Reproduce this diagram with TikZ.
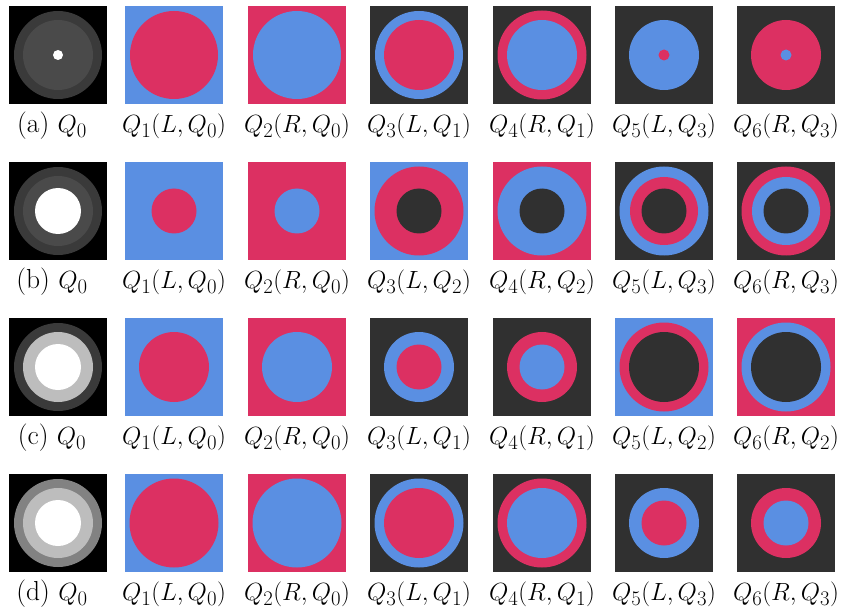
\documentclass[tikz,border=0pt]{standalone}
\usepackage{tikz}
\definecolor{blu}{RGB}{90,143,226}
\definecolor{pnk}{RGB}{220,48,98}
\definecolor{drk}{RGB}{48,48,48}
\definecolor{gA}{RGB}{58,58,58}
\definecolor{gB}{RGB}{74,74,74}
\definecolor{gC}{RGB}{189,189,189}
\definecolor{gD}{RGB}{130,130,130}
\tikzset{
  sq/.style={minimum size=98pt, inner sep=0pt, outer sep=0pt, draw=none},
  lab/.style={font=\fontsize{27.5}{31}\selectfont, inner sep=0pt}
}
\newcommand\panel[5]{%
  \node[sq, fill=#4] (#1) at (#2,#3) {};
  \foreach \r/\c in {#5} {\fill[\c] (#1.center) circle[radius=\r pt];}
}
\begin{document}
\begin{tikzpicture}[x=1pt,y=-1pt]
\useasboundingbox[fill=white] (0,0) rectangle (845,612);
% row a
\panel{a0}{58}{55}{black}{44/gA,35/gB,5/white}
\panel{a1}{174}{55}{blu}{44/pnk}
\panel{a2}{297}{55}{pnk}{44/blu}
\panel{a3}{419}{55}{drk}{44/blu,35/pnk}
\panel{a4}{542}{55}{drk}{44.5/pnk,35/blu}
\panel{a5}{664}{55}{drk}{35/blu,5.5/pnk}
\panel{a6}{786}{55}{drk}{35/pnk,5.5/blu}
\node[lab] (la0) at (52,126) {(a) $Q_0$};
\node[lab] (la1) at (174,126) {$Q_1(L,Q_0)$};
\node[lab] (la2) at (297,126) {$Q_2(R,Q_0)$};
\node[lab] (la3) at (419,126) {$Q_3(L,Q_1)$};
\node[lab] (la4) at (542,126) {$Q_4(R,Q_1)$};
\node[lab] (la5) at (664,126) {$Q_5(L,Q_3)$};
\node[lab] (la6) at (786,126) {$Q_6(R,Q_3)$};
% row b
\panel{b0}{58}{211}{black}{44/gA,35/gB,23/white}
\panel{b1}{174}{211}{blu}{22.5/pnk}
\panel{b2}{297}{211}{pnk}{22.5/blu}
\panel{b3}{419}{211}{blu}{44.5/pnk,22.5/drk}
\panel{b4}{542}{211}{pnk}{44.5/blu,22.5/drk}
\panel{b5}{664}{211}{drk}{44.5/blu,34/pnk,22.5/drk}
\panel{b6}{786}{211}{drk}{44.5/pnk,34/blu,22.5/drk}
\node[lab] (lb0) at (52,282) {(b) $Q_0$};
\node[lab] (lb1) at (174,282) {$Q_1(L,Q_0)$};
\node[lab] (lb2) at (297,282) {$Q_2(R,Q_0)$};
\node[lab] (lb3) at (419,282) {$Q_3(L,Q_2)$};
\node[lab] (lb4) at (542,282) {$Q_4(R,Q_2)$};
\node[lab] (lb5) at (664,282) {$Q_5(L,Q_3)$};
\node[lab] (lb6) at (786,282) {$Q_6(R,Q_3)$};
% row c
\panel{c0}{58}{367}{black}{44/gA,35/gC,23/white}
\panel{c1}{174}{367}{blu}{35/pnk}
\panel{c2}{297}{367}{pnk}{35/blu}
\panel{c3}{419}{367}{drk}{35/blu,22.5/pnk}
\panel{c4}{542}{367}{drk}{35/pnk,22.5/blu}
\panel{c5}{664}{367}{blu}{44.5/pnk,35/drk}
\panel{c6}{786}{367}{pnk}{44.5/blu,35/drk}
\node[lab] (lc0) at (52,438) {(c) $Q_0$};
\node[lab] (lc1) at (174,438) {$Q_1(L,Q_0)$};
\node[lab] (lc2) at (297,438) {$Q_2(R,Q_0)$};
\node[lab] (lc3) at (419,438) {$Q_3(L,Q_1)$};
\node[lab] (lc4) at (542,438) {$Q_4(R,Q_1)$};
\node[lab] (lc5) at (664,438) {$Q_5(L,Q_2)$};
\node[lab] (lc6) at (786,438) {$Q_6(R,Q_2)$};
% row d
\panel{d0}{58}{523}{black}{44/gD,35/gC,23/white}
\panel{d1}{174}{523}{blu}{44.5/pnk}
\panel{d2}{297}{523}{pnk}{44.5/blu}
\panel{d3}{419}{523}{drk}{44.5/blu,35/pnk}
\panel{d4}{542}{523}{drk}{44.5/pnk,35/blu}
\panel{d5}{664}{523}{drk}{35/blu,22.5/pnk}
\panel{d6}{786}{523}{drk}{35/pnk,22.5/blu}
\node[lab] (ld0) at (52,594) {(d) $Q_0$};
\node[lab] (ld1) at (174,594) {$Q_1(L,Q_0)$};
\node[lab] (ld2) at (297,594) {$Q_2(R,Q_0)$};
\node[lab] (ld3) at (419,594) {$Q_3(L,Q_1)$};
\node[lab] (ld4) at (542,594) {$Q_4(R,Q_1)$};
\node[lab] (ld5) at (664,594) {$Q_5(L,Q_3)$};
\node[lab] (ld6) at (786,594) {$Q_6(R,Q_3)$};
\end{tikzpicture}
\end{document}
